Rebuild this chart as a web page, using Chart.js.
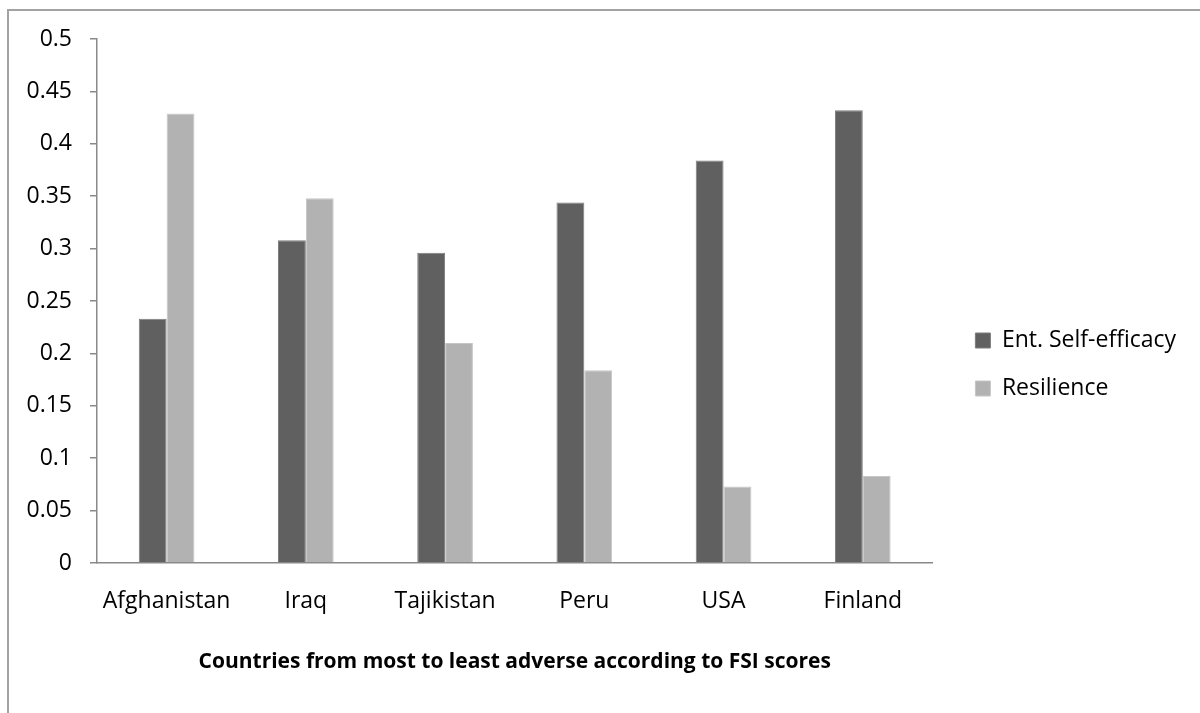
<!DOCTYPE html>
<html>
<head>
<meta charset="utf-8">
<title>Ent. Self-efficacy and Resilience by country</title>
<script src="https://cdn.jsdelivr.net/npm/chart.js@4/dist/chart.umd.min.js"></script>
<style>
  html, body { margin: 0; padding: 0; background: #ffffff; }
  #wrap { width: 1200px; height: 713px; }
</style>
</head>
<body>
<div id="wrap"><canvas id="chart" width="1200" height="713"></canvas></div>
<script>
// Countries, ordered from most to least adverse by FSI score
const countries = ['Afghanistan', 'Iraq', 'Tajikistan', 'Peru', 'USA', 'Finland'];

// Series values
const selfEfficacy = [0.233, 0.308, 0.296, 0.344, 0.384, 0.432];
const resilience   = [0.429, 0.348, 0.210, 0.184, 0.073, 0.083];

// Value-axis tick labels, bottom to top
const yTickLabels = ['0', '0.05', '0.1', '0.15', '0.2', '0.25', '0.3', '0.35', '0.4', '0.45', '0.5'];

const xTitle = 'Countries from most to least adverse according to FSI scores';

const FONT = "'Open Sans', 'DejaVu Sans', sans-serif";
const AXIS_GREY = '#898989';

// Thin grey frame along the top and left edges of the chart box
const framePlugin = {
  id: 'frame',
  beforeDraw(chart) {
    const ctx = chart.ctx;
    ctx.save();
    ctx.fillStyle = '#ffffff';
    ctx.fillRect(0, 0, chart.width, chart.height);
    ctx.strokeStyle = '#a3a3a3';
    ctx.lineWidth = 2;
    ctx.beginPath();
    ctx.moveTo(8, chart.height);
    ctx.lineTo(8, 10);
    ctx.lineTo(chart.width, 10);
    ctx.stroke();
    ctx.restore();
  }
};

// Let the right-hand legend take its natural width instead of the
// default share of the canvas that the layout hands to side boxes
const legendWidthPlugin = {
  id: 'legendWidth',
  afterInit(chart) {
    const legend = chart.legend;
    if (!legend || legend._wideFit) return;
    const fit = legend.fit;
    legend.fit = function () {
      this.maxWidth = Math.max(this.maxWidth, 400);
      fit.call(this);
    };
    legend._wideFit = true;
  }
};

new Chart(document.getElementById('chart'), {
  type: 'bar',
  data: {
    labels: countries,
    datasets: [
      {
        label: 'Ent. Self-efficacy',
        data: selfEfficacy,
        backgroundColor: '#606060',
        borderColor: '#7c7c7c',
        borderWidth: 1
      },
      {
        label: 'Resilience',
        data: resilience,
        backgroundColor: '#b2b2b2',
        borderColor: '#c6c6c6',
        borderWidth: 1
      }
    ]
  },
  options: {
    responsive: false,
    animation: false,
    devicePixelRatio: 1,
    layout: { padding: { top: 39, bottom: 23, left: 0, right: 14 } },
    datasets: { bar: { categoryPercentage: 0.4, barPercentage: 1.0 } },
    plugins: {
      legend: {
        position: 'right',
        align: 'center',
        labels: {
          boxWidth: 15,
          boxHeight: 15,
          padding: 25,
          color: '#000000',
          font: { family: FONT, size: 23 }
        }
      },
      tooltip: { enabled: false }
    },
    scales: {
      x: {
        grid: { display: true, drawOnChartArea: false, drawTicks: false },
        border: { display: true, color: AXIS_GREY, width: 1.5 },
        ticks: {
          color: '#000000',
          padding: 25,
          maxRotation: 0,
          autoSkip: false,
          font: { family: FONT, size: 23 }
        },
        title: {
          display: true,
          text: xTitle,
          color: '#000000',
          font: { family: FONT, size: 21, weight: 'bold' },
          padding: { top: 0, bottom: 15 }
        },
        afterFit(scale) { scale.height = 127; }
      },
      y: {
        min: 0,
        max: 0.5,
        grid: {
          display: true,
          drawOnChartArea: false,
          drawTicks: true,
          tickLength: 7,
          color: AXIS_GREY,
          lineWidth: 1.5
        },
        border: { display: true, color: AXIS_GREY, width: 1.5 },
        ticks: {
          stepSize: 0.05,
          color: '#000000',
          padding: 18,
          font: { family: FONT, size: 23 },
          callback: (value, index) => yTickLabels[index]
        },
        afterFit(scale) { scale.width = 97; }
      },
      // empty spacer between the plot area and the legend
      gap: {
        type: 'linear',
        position: 'right',
        display: true,
        grid: { display: false, drawTicks: false },
        border: { display: false },
        ticks: { display: false },
        afterFit(scale) { scale.width = 18; }
      }
    }
  },
  plugins: [framePlugin, legendWidthPlugin]
});
</script>
</body>
</html>
